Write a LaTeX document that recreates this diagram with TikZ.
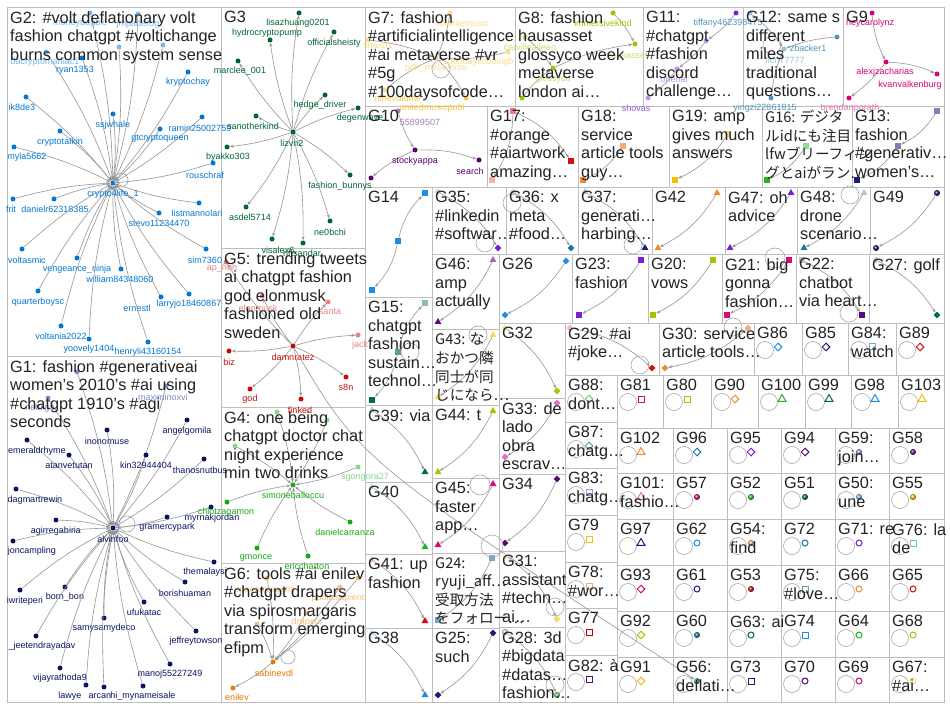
\documentclass[tikz,border=0pt]{standalone}
\usepackage{fontspec}
\setmainfont{Liberation Sans}
\newfontfamily\cjk{Noto Sans CJK JP}
\usetikzlibrary{arrows.meta,shapes.geometric}

\definecolor{boxgray}{RGB}{190,190,190}
\definecolor{edgegray}{RGB}{150,150,150}
\definecolor{ink}{RGB}{35,35,35}
\definecolor{ctwo}{RGB}{0,120,215}
\definecolor{ctwof}{RGB}{120,185,240}
\definecolor{cone}{RGB}{10,20,100}
\definecolor{conef}{RGB}{130,140,200}
\definecolor{cthree}{RGB}{0,100,50}
\definecolor{cfive}{RGB}{200,10,10}
\definecolor{cfivef}{RGB}{235,130,130}
\definecolor{cfour}{RGB}{20,170,20}
\definecolor{cfourf}{RGB}{140,215,140}
\definecolor{csix}{RGB}{235,120,0}
\definecolor{csixf}{RGB}{245,190,130}
\definecolor{cseven}{RGB}{250,200,60}
\definecolor{csevenf}{RGB}{250,222,140}
\definecolor{ceight}{RGB}{150,200,0}
\definecolor{ceightf}{RGB}{195,225,120}
\definecolor{celeven}{RGB}{150,90,220}
\definecolor{celevenf}{RGB}{190,150,235}
\definecolor{ctwelve}{RGB}{80,150,185}
\definecolor{ctwelvef}{RGB}{150,195,215}
\definecolor{cnine}{RGB}{220,0,120}
\definecolor{cninef}{RGB}{230,120,175}
\definecolor{cten}{RGB}{90,0,110}
\definecolor{ctenf}{RGB}{165,125,185}
\definecolor{mkmag}{RGB}{215,10,120}
\definecolor{mkygreen}{RGB}{160,200,0}
\definecolor{mkorange}{RGB}{240,140,40}
\definecolor{mkgreen}{RGB}{30,185,30}
\definecolor{mkdgreen}{RGB}{0,110,60}
\definecolor{mkblue}{RGB}{30,140,230}
\definecolor{mkgold}{RGB}{245,190,0}
\definecolor{mkteal}{RGB}{20,120,160}
\definecolor{mkpurple}{RGB}{120,30,215}
\definecolor{mkdpurple}{RGB}{90,10,120}
\definecolor{mklav}{RGB}{175,135,230}
\definecolor{mksalmon}{RGB}{240,120,120}
\definecolor{mkltblue}{RGB}{110,180,240}
\definecolor{mkpeach}{RGB}{245,170,120}
\definecolor{mkltgreen}{RGB}{110,205,120}
\definecolor{mkred}{RGB}{210,15,15}
\definecolor{mkdred}{RGB}{190,0,0}
\definecolor{mkgreygreen}{RGB}{100,160,120}
\definecolor{mknavy}{RGB}{25,30,120}
\definecolor{mkpink}{RGB}{230,110,200}
\definecolor{mkyellow}{RGB}{250,215,110}
\definecolor{mksteel}{RGB}{120,170,200}
\definecolor{mkslate}{RGB}{120,130,180}

\newcommand\ttlfont{\fontsize{16.3}{18.6}\selectfont}
\newcommand\lblfont{\fontsize{9}{9}\selectfont}

\tikzset{
  grpbox/.style={draw=boxgray, line width=0.9pt},
  ttl/.style={anchor=north west, inner sep=0pt, align=left, text=ink, font=\ttlfont},
  latin/.style={},
  cjkttl/.style={font=\fontsize{14.6}{18.6}\selectfont\cjk},
  lbl/.style={inner sep=0pt, font=\lblfont},
  link/.style={draw=edgegray, line width=0.6pt, -{Stealth[length=4pt,width=3pt]}},
  loopline/.style={draw=edgegray!85, line width=0.6pt},
  vdot/.style={circle, fill=#1, inner sep=0pt, minimum size=5pt},
  msq/.style={rectangle, fill=#1, inner sep=0pt, minimum size=6pt},
  mdi/.style={diamond, fill=#1, inner sep=0pt, minimum size=7pt},
  mtr/.style={regular polygon, regular polygon sides=3, fill=#1, inner sep=0pt, minimum size=8pt},
  mbl/.style={circle, ball color=#1, inner sep=0pt, minimum size=6pt},
  osq/.style={rectangle, draw=#1, fill=white, line width=1pt, inner sep=0pt, minimum size=6pt},
  odi/.style={diamond, draw=#1, fill=white, line width=1pt, inner sep=0pt, minimum size=8pt},
  otr/.style={regular polygon, regular polygon sides=3, draw=#1, fill=white, line width=1pt, inner sep=0pt, minimum size=9pt},
  oci/.style={circle, draw=#1, fill=white, line width=1pt, inner sep=0pt, minimum size=6pt}
}

% x0/y0/x1/y1/font style/title
\def\biglist{
7/7/221/356/latin/G2: \#volt deflationary volt\\fashion chatgpt \#voltichange\\burns common system sense,
7/356/221/702/latin/G1: fashion \#generativeai\\women's 2010's \#ai using\\\#chatgpt 1910's \#agi\\seconds,
221/7/365/248/latin/G3,
221/248/365/407/latin/G5: trending tweets\\ai chatgpt fashion\\god elonmusk\\fashioned old\\sweden,
221/407/365/563/latin/G4: one being\\chatgpt doctor chat\\night experience\\min two drinks,
221/563/365/702/latin/G6: tools \#ai enilev\\\#chatgpt drapers\\via spirosmargaris\\transform emerging\\efipm,
365/7/515/106/latin/G7: fashion\\\#artificialintelligence\\\#ai metaverse \#vr\\\#5g\\\#100daysofcode…,
515/7/643/106/latin/G8: fashion\\hausasset\\glossyco week\\metaverse\\london ai…,
643/7/743/106/latin/G11:\\\#chatgpt\\\#fashion\\discord\\challenge…,
743/7/843/106/latin/G12: same s\\different\\miles\\traditional\\questions…,
843/7/944/106/latin/G9,
365/106/487/187/latin/G10,
487/106/578/187/latin/G17:\\\#orange\\\#aiartwork\\amazing…,
578/106/669/187/latin/G18:\\service\\article tools\\guy…,
669/106/762/187/latin/G19: amp\\gives much\\answers,
762/106/852/187/cjkttl/G16: デジタ\\ルidにも注目\\lfwブリーフィン\\グとaiがラン…,
852/106/944/187/latin/G13:\\fashion\\\#generativ…\\women's…,
365/187/432/297/latin/G14,
432/187/506/254/latin/G35:\\\#linkedin\\\#softwar…,
506/187/578/254/latin/G36: x\\meta\\\#food…,
578/187/652/254/latin/G37:\\generati…\\harbing…,
652/187/725/254/latin/G42,
725/187/797/254/latin/G47: oh\\advice,
797/187/870/254/latin/G48:\\drone\\scenario…,
870/187/944/254/latin/G49,
365/297/432/405/latin/G15:\\chatgpt\\fashion\\sustain…\\technol…,
432/254/499/329/latin/G46:\\amp\\actually,
499/254/572/323/latin/G26,
572/254/648/323/latin/G23:\\fashion,
648/254/722/323/latin/G20:\\vows,
722/254/796/323/latin/G21: big\\gonna\\fashion…,
796/254/869/323/latin/G22:\\chatbot\\via heart…,
869/254/944/323/latin/G27: golf,
432/329/499/405/cjkttl/G43: な\\おかつ隣\\同士が同\\じになら…,
499/323/565/398/latin/G32,
565/323/659/375/latin/G29: \#ai\\\#joke…,
659/323/754/375/latin/G30: service\\article tools…,
365/405/432/482/latin/G39: via,
432/405/499/478/latin/G44: t,
499/398/565/474/latin/G33: de\\lado\\obra\\escrav…,
365/482/432/554/latin/G40,
432/478/499/553/latin/G45:\\faster\\app…,
499/474/565/551/latin/G34,
365/554/432/628/latin/G41: up\\fashion,
432/553/499/628/cjkttl/G24:\\ryuji\_aff…\\受取方法\\をフォロー…,
499/551/565/627/latin/G31:\\assistant\\\#techn…\\ai…,
365/628/432/702/latin/G38,
432/628/499/702/latin/G25:\\such,
499/627/565/702/latin/G28: 3d\\\#bigdata\\\#datas…\\fashion…}

% name/x0/y0/x1/y1/title/marker/colour
\def\cellist{
G86/754/323/802/375/G86/odi/mkblue,
G85/802/323/848/375/G85/odi/mknavy,
G84/848/323/896/375/G84:\\watch/osq/mksteel,
G89/896/323/944/375/G89/odi/mkred,
G88/565/375/617/422/G88:\\dont…/odi/mkltgreen,
G87/565/422/617/468/G87:\\chatg…/odi/mkgreygreen,
G83/565/468/617/515/G83:\\chatg…/osq/mklav,
G79/565/515/617/562/G79/osq/mkgold,
G78/565/562/617/608/G78:\\\#wor…/osq/mkpeach,
G77/565/608/617/655/G77/osq/mkdred,
G82/565/655/617/702/G82: à/osq/mkdpurple,
G81/617/375/663/428/G81/osq/mkmag,
G80/663/375/711/428/G80/osq/mkygreen,
G90/711/375/758/428/G90/odi/mkorange,
G100/758/375/805/428/G100/otr/mkgreen,
G99/805/375/851/428/G99/otr/mkdgreen,
G98/851/375/898/428/G98/otr/mkblue,
G103/898/375/944/428/G103/otr/mkgold,
G102/617/428/673/473/G102/otr/mkorange,
G96/673/428/727/473/G96/odi/mkteal,
G95/727/428/781/473/G95/odi/mkpurple,
G94/781/428/835/473/G94/odi/mkdpurple,
G59/835/428/889/473/G59:\\join…/mbl/mklav,
G58/889/428/944/473/G58/mbl/mkdpurple,
G101/617/473/673/519/G101:\\fashio…/otr/mksalmon,
G57/673/473/727/519/G57/mbl/mkmag,
G52/727/473/781/519/G52/mbl/mkgreen,
G51/781/473/835/519/G51/mbl/mkdgreen,
G50/835/473/889/519/G50:\\une/mbl/mkltblue,
G55/889/473/944/519/G55/mbl/mkgold,
G97/617/519/673/565/G97/otr/mknavy,
G62/673/519/727/565/G62/oci/mkblue,
G54/727/519/781/565/G54:\\find/mbl/mkpeach,
G72/781/519/835/565/G72/oci/mkteal,
G71/835/519/889/565/G71: re/oci/mkpurple,
G76/889/519/944/565/G76: la\\de/osq/mkltgreen,
G93/617/565/673/611/G93/odi/mkmag,
G61/673/565/727/611/G61/oci/mknavy,
G53/727/565/781/611/G53/mbl/mkred,
G75/781/565/835/611/G75:\\\#love…/osq/mkgreygreen,
G66/835/565/889/611/G66/oci/mkorange,
G65/889/565/944/611/G65/oci/mkred,
G92/617/611/673/657/G92/odi/mkygreen,
G60/673/611/727/657/G60/mbl/mkteal,
G63/727/611/781/657/G63: ai/oci/mkdgreen,
G74/781/611/835/657/G74/osq/mkblue,
G64/835/611/889/657/G64/oci/mkgreen,
G68/889/611/944/657/G68/oci/mkygreen,
G91/617/657/673/702/G91/odi/mkgold,
G56/673/657/727/702/G56:\\deflati…/mbl/mkltgreen,
G73/727/657/781/702/G73/osq/mknavy,
G70/781/657/835/702/G70/oci/mkdpurple,
G69/835/657/889/702/G69/oci/mkmag,
G67/889/657/944/702/G67:\\\#ai…/oci/mkyellow}

\begin{document}
\begin{tikzpicture}[x=1pt,y=-1pt]
\useasboundingbox (0,0) rectangle (950,708);
\fill[white] (0,0) rectangle (950,708);

% group boxes
\foreach \xa/\ya/\xb/\yb/\tst/\txt in \biglist
  \draw[grpbox] (\xa,\ya) rectangle (\xb,\yb);
\foreach \nm/\xa/\ya/\xb/\yb/\txt/\shp/\cl in \cellist {
  \draw[grpbox] (\xa,\ya) rectangle (\xb,\yb);
  \draw[loopline] (\xa+11,\ya+27) circle (8.5pt);
  \node[\shp=\cl] (mk\nm) at (\xa+24,\ya+24) {};
}

% G2
\node[vdot=ctwo] (cfl) at (113,183) {};
\draw[loopline] (121,180) circle (7pt);
\foreach \nm/\px/\py/\lx/\ly/\cl [count=\i] in {
  moneybagblc/90/13/80/23/ctwof, jmpaderog/138/14/138/24/ctwof,
  /119/47/119/47/ctwof, /163/45/163/45/ctwof,
  dacryptomaniac1/46/52/45/62/ctwof, ryan1353/82/58/75/70/ctwo,
  kryptochay/188/72/188/82/ctwo, ik8de3/26/97/22/107/ctwo,
  ssjwhale/113/114/113/125/ctwo, ramin25002759/202/117/200/128/ctwo,
  gtcryptoqueen/160/129/160/139/ctwo, cryptotalkin/60/131/60/142/ctwo,
  myla5662/14/147/27/157/ctwo, rouschraf/213/163/205/175/ctwo,
  frit/13/199/11/209/ctwo, danielr62318385/54/199/55/209/ctwo,
  listmannolari/199/203/197/213/ctwo, stevo11234470/159/213/159/223/ctwo,
  voltasmic/22/249/27/260/ctwo, sim7360/206/249/205/260/ctwo,
  vengeance\_ninja/77/258/77/269/ctwo, william84348060/121/269/120/279/ctwo,
  quarterboysc/38/291/38/302/ctwo, larryjo18460867/189/294/189/304/ctwo,
  ernestl/161/297/137/308/ctwo, voltania2022/61/326/61/336/ctwo,
  yoovely1404/89/339/89/349/ctwo, henryli43160154/148/342/148/352/ctwo}{
  \node[vdot=\cl] (b\i) at (\px,\py) {};
  \draw[link] (b\i) to[bend left=6] (cfl);
  \node[lbl,text=\cl] at (\lx,\ly) {\nm};
}
\node[lbl,text=ctwo] at (113,194) {crypto4life\_1};

% G1
\node[vdot=cone] (alv) at (113,528) {};
\draw[loopline] (127,524) circle (8pt);
\foreach \nm/\px/\py/\lx/\ly/\cl [count=\i] in {
  /77/372/77/372/conef, maximinoxvi/166/386/163/397/conef,
  nettiiga/48/398/40/408/conef, angelgomila/187/420/187/431/cone,
  inonomuse/107/430/107/441/cone, emeraldrhyme/27/440/37/451/cone,
  atanvetutan/69/455/69/466/cone, kin32944404/146/455/146/465/cone,
  thanosnutbus/204/459/200/470/cone, dagmartrewin/16/489/35/500/cone,
  myrnakjordan/211/507/212/518/cone, gramercypark/167/517/167/527/cone,
  agirregabiria/56/520/56/531/cone, joncampling/13/541/32/551/cone,
  themalaysi/214/562/205/572/cone, borishuaman/185/582/185/593/cone,
  iwriteperi/20/590/25/601/cone, born\_bon/65/587/65/597/cone,
  ufukatac/144/602/144/612/cone, samysamydeco/104/618/104/628/cone,
  jeffreytowson/196/631/196/641/cone, \_jeetendrayadav/36/636/42/646/cone,
  manoj55227249/170/664/170/674/cone, vijayrathoda9/60/668/60/678/cone,
  lawye/86/685/70/696/cone, arcan/104/687/100/696/cone,
  hi\_mynameisale/143/686/143/696/cone}{
  \node[vdot=\cl] (a\i) at (\px,\py) {};
  \draw[link] (a\i) to[bend left=6] (alv);
  \node[lbl,text=\cl] at (\lx,\ly) {\nm};
}
\node[lbl,text=cone] at (113,539) {alvinfoo};

% G3
\node[vdot=cthree] (lzv) at (293,132) {};
\foreach \nm/\px/\py/\lx/\ly [count=\i] in {
  lisazhuang0201/299/13/298/23, hydrocryptopump/270/40/267/33,
  officialsheisty/334/32/334/43, marclee\_001/238/61/240/71,
  hedge\_driver/325/95/320/105, degenwave/358/108/360/118,
  sanotherkind/256/116/253/126, byakko303/227/147/228/157,
  fashion\_bunnys/350/175/340/186, asdel5714/246/207/250/217,
  ne0bchi/330/221/330/232, visalex6/272/239/278/250,
  nftsandar/303/243/302/253}{
  \node[vdot=cthree] (c\i) at (\px,\py) {};
  \draw[link] (lzv) to[bend left=6] (c\i);
  \node[lbl,text=cthree] at (\lx,\ly) {\nm};
}
\node[lbl,text=cthree] at (292,143) {lizvn2};

% G5
\node[vdot=cfive] (dmr) at (293,346) {};
\foreach \nm/\px/\py/\lx/\ly/\cl [count=\i] in {
  elonmusk/262/296/258/308/cfivef, santa/328/302/330/312/cfivef,
  jack/358/335/360/345/cfivef, biz/229/351/229/362/cfive,
  s8n/346/377/346/387/cfive, god/250/389/250/399/cfive,
  finked/301/399/300/410/cfive, ap\_hbh/226/262/222/268/cfivef}{
  \node[vdot=\cl] (d\i) at (\px,\py) {};
  \draw[link] (dmr) to[bend left=6] (d\i);
  \node[lbl,text=\cl] at (\lx,\ly) {\nm};
}
\node[lbl,text=cfive] at (293,357) {damnratez};
\draw[link] (dmr) .. controls (360,460) .. (mkG56);

% G4
\node[vdot=cfour] (smb) at (293,485) {};
\foreach \nm/\px/\py/\lx/\ly/\cl [count=\i] in {
  /277/412/277/412/cfourf, /327/420/327/420/cfourf, /235/446/235/446/cfourf,
  sgongora27/358/467/365/477/cfourf, chlotzagamon/227/502/226/512/cfour,
  danielcarranza/350/522/345/532/cfour, gmonce/257/548/256/558/cfour,
  ericcharton/308/556/307/566/cfour}{
  \node[vdot=\cl] (e\i) at (\px,\py) {};
  \draw[link] (e\i) to[bend left=6] (smb);
  \node[lbl,text=\cl] at (\lx,\ly) {\nm};
}
\node[lbl,text=cfour] at (293,495) {simoneballoccu};

% G6
\node[vdot=csix] (sbv) at (273,662) {};
\draw[loopline] (288,657) circle (7pt);
\foreach \nm/\px/\py/\lx/\ly/\cl [count=\i] in {
  spirosmargaris/267/578/265/590/csixf, publicsapient/340/587/338/598/csixf,
  /358/578/358/578/csixf, drapers/306/613/307/622/csixf,
  /257/624/257/624/csixf}{
  \node[vdot=\cl] (f\i) at (\px,\py) {};
  \draw[link] (f\i) to[bend left=6] (sbv);
  \node[lbl,text=\cl] at (\lx,\ly) {\nm};
}
\node[vdot=csix] (enl) at (233,688) {};
\draw[link] (sbv) to[bend left=6] (enl);
\node[lbl,text=csix] at (237,697) {enilev};
\node[lbl,text=csix] at (274,673) {sabinevdl};

% G7
\node[vdot=csevenf] (pdh) at (436,58) {};
\node[vdot=csevenf] (awm) at (450,13) {};
\node[vdot=csevenf] (shx) at (368,40) {};
\node[vdot=csevenf] (nvl) at (385,90) {};
\node[vdot=csevenf] (kdc) at (508,52) {};
\node[vdot=cseven] (ump) at (466,98) {};
\draw[loopline] (441,69) circle (9pt);
\foreach \s in {awm,shx,nvl,kdc}
  \draw[link] (\s) to[bend left=8] (pdh);
\draw[link] (pdh) to[bend left=8] (ump);
\node[lbl,text=csevenf] at (463,23) {allwritemusic};
\node[lbl,text=csevenf] at (378,45) {shaxd1};
\node[lbl,text=csevenf] at (436,68) {pdh\_metaverse};
\node[lbl,text=csevenf] at (478,62) {1000dayscodingb};
\node[lbl,text=cseven] at (398,98) {ninevolume};
\node[lbl,text=cseven] at (432,108) {unitedmusicpubl};

% G8
\node[vdot=ceight] (imk) at (613,13) {};
\node[vdot=ceight] (has) at (635,44) {};
\node[vdot=ceightf] (cvl) at (525,37) {};
\node[vdot=ceight] (gly) at (553,68) {};
\node[vdot=ceight] (gbd) at (522,98) {};
\draw[link] (imk) to[bend left=8] (has);
\draw[link] (cvl) to[bend left=8] (gly);
\draw[link] (gly) to[bend left=8] (has);
\draw[link] (gbd) to[bend left=8] (gly);
\node[lbl,text=ceight] at (603,23) {immersivekind};
\node[lbl,text=ceightf] at (627,55) {hausasset};
\node[lbl,text=ceightf] at (530,47) {carvilleaileen};
\node[lbl,text=ceightf] at (553,79) {glossyco};

% G11
\node[vdot=mkpurple] (tfy) at (736,13) {};
\node[vdot=celevenf] (kon) at (706,41) {};
\node[vdot=celevenf] (opn) at (677,69) {};
\node[vdot=celevenf] (shv) at (648,98) {};
\draw[link] (tfy) to[bend left=8] (kon);
\draw[link] (kon) to[bend left=8] (opn);
\draw[link] (opn) to[bend left=8] (shv);
\node[lbl,text=ctwelve] at (728,23) {tiffany462398475};
\node[lbl,text=celevenf] at (674,80) {openai};
\node[lbl,text=celeven] at (636,108) {shovas};

% G12
\node[vdot=ctwelvef] (zto) at (750,13) {};
\node[vdot=ctwelve] (zbk) at (837,37) {};
\node[vdot=ctwelvef] (fcn) at (784,49) {};
\node[vdot=ctwelve] (ygz) at (771,98) {};
\draw[loopline] (772,45) circle (9pt);
\draw[link] (zbk) to[bend right=8] (fcn);
\draw[link] (zto) to[bend left=8] (fcn);
\draw[link] (ygz) to[bend left=8] (fcn);
\node[lbl,text=ctwelve] at (808,48) {zbacker1};
\node[lbl,text=ctwelvef] at (785,60) {ficn77777};
\node[lbl,text=ctwelve] at (765,108) {yingzi22861815};

% G9
\node[vdot=cnine] (hcl) at (872,13) {};
\node[vdot=cnine] (axz) at (886,62) {};
\node[vdot=cnine] (kvv) at (937,74) {};
\node[vdot=cnine] (bdp) at (849,98) {};
\draw[link] (hcl) to[bend right=10] (axz);
\draw[link] (axz) to[bend left=10] (kvv);
\draw[link] (axz) to[bend left=8] (bdp);
\node[lbl,text=cnine] at (870,23) {heycarolynz};
\node[lbl,text=cnine] at (885,72) {alexjzacharias};
\node[lbl,text=cnine] at (910,85) {kvanvalkenburg};
\node[lbl,text=cninef] at (850,108) {brendanporath};

% G10
\node[vdot=ctenf] (tnp) at (398,111) {};
\node[vdot=cten] (sty) at (415,150) {};
\node[vdot=cten] (sch) at (479,160) {};
\node[vdot=cten] (tnb) at (371,178) {};
\draw[link] (tnp) to[bend right=8] (sty);
\draw[link] (sty) to[bend left=10] (sch);
\draw[link] (sty) to[bend right=8] (tnb);
\node[lbl,text=ctenf] at (420,122) {55899507};
\node[lbl,text=cten] at (415,161) {stockyappa};
\node[lbl,text=cten] at (470,171) {search};

% two-node groups
\foreach \ax/\ay/\bx/\by/\shp/\ca/\cb [count=\i] in {
  398/241/425/193/msq/mkblue/mkblue, 398/241/372/290/msq/mkblue/mkblue,
  398/352/425/303/msq/mkgreygreen/mkgreygreen!70, 398/352/372/400/msq/mkgreygreen/mkdgreen,
  438/192/498/248/mdi/mkpurple!30/mkpurple, 513/192/571/248/mdi/mkteal!30/mkteal,
  585/192/645/248/mtr/mknavy!30/mknavy, 717/193/658/248/mtr/mkorange/mkorange,
  791/193/730/248/mtr/mkpurple/mkpurple, 864/193/804/248/mtr/mkteal!40/mkteal,
  937/193/876/248/mbl/mknavy/mknavy, 493/260/438/322/mtr/mkdpurple!60/mkdpurple,
  566/261/505/315/mdi/mkblue/mkblue, 641/260/579/315/msq/mkpurple/mkpurple,
  713/260/653/315/msq/mkygreen/mkygreen, 789/260/727/315/msq/mkmag/mkmag,
  802/260/862/315/msq/mkdpurple!30/mkdpurple, 876/260/937/315/mdi/mkdgreen!30/mkdgreen,
  570/328/652/368/mdi/mkred!30/mkred, 748/328/665/368/mdi/mkpeach/mkorange,
  505/328/557/391/mdi/mkygreen!30/mkygreen, 557/403/505/457/mdi/mkpink/mkpink,
  557/479/505/543/mdi/mkdpurple/mkdpurple, 506/556/557/619/mdi/mkyellow!40/mkyellow,
  505/632/557/695/mbl/mkltgreen!40/mkltgreen, 372/410/425/472/mtr/mkdgreen!30/mkdgreen,
  493/411/438/472/mtr/mkygreen/mkygreen, 372/487/425/547/mtr/mkgreen!30/mkgreen,
  493/484/438/545/mtr/mkmag/mkmag, 372/560/425/621/mtr/mkred!30/mkred,
  492/558/438/620/msq/mksteel/mksteel, 493/633/438/695/mdi/mknavy/mknavy,
  372/633/425/695/mtr/mkblue!30/mkblue, 493/335/438/397/mtr/mkyellow/mkyellow,
  513/111/571/161/msq/mksalmon/mkred, 513/111/492/180/msq/mksalmon/mksalmon!60,
  623/146/583/180/msq/mkpeach/mkorange, 728/134/675/180/msq/mkgold!50/mkgold,
  806/146/767/180/msq/mkgreen!50/mkgreen, 937/111/898/146/msq/mkslate/mkslate,
  898/146/857/180/msq/mkslate/mknavy}{
  \node[\shp=\ca] (p\i) at (\ax,\ay) {};
  \node[\shp=\cb] (q\i) at (\bx,\by) {};
  \draw[link] (p\i) to[bend left=15] (q\i);
}
\foreach \px/\py/\r in {410/352/9, 485/243/9, 512/203/9, 633/245/9, 850/195/9,
  775/258/10, 849/313/9, 640/365/9, 733/327/9, 555/607/9, 555/685/9,
  480/485/10, 492/546/11, 478/335/9}
  \draw[loopline] (\px,\py) circle (\r pt);

% titles on top
\foreach \xa/\ya/\xb/\yb/\tst/\txt in \biglist
  \node[ttl,\tst] at (\xa+3,\ya+4) {\txt};
\foreach \nm/\xa/\ya/\xb/\yb/\txt/\shp/\cl in \cellist
  \node[ttl] at (\xa+3,\ya+4) {\txt};
\end{tikzpicture}
\end{document}
